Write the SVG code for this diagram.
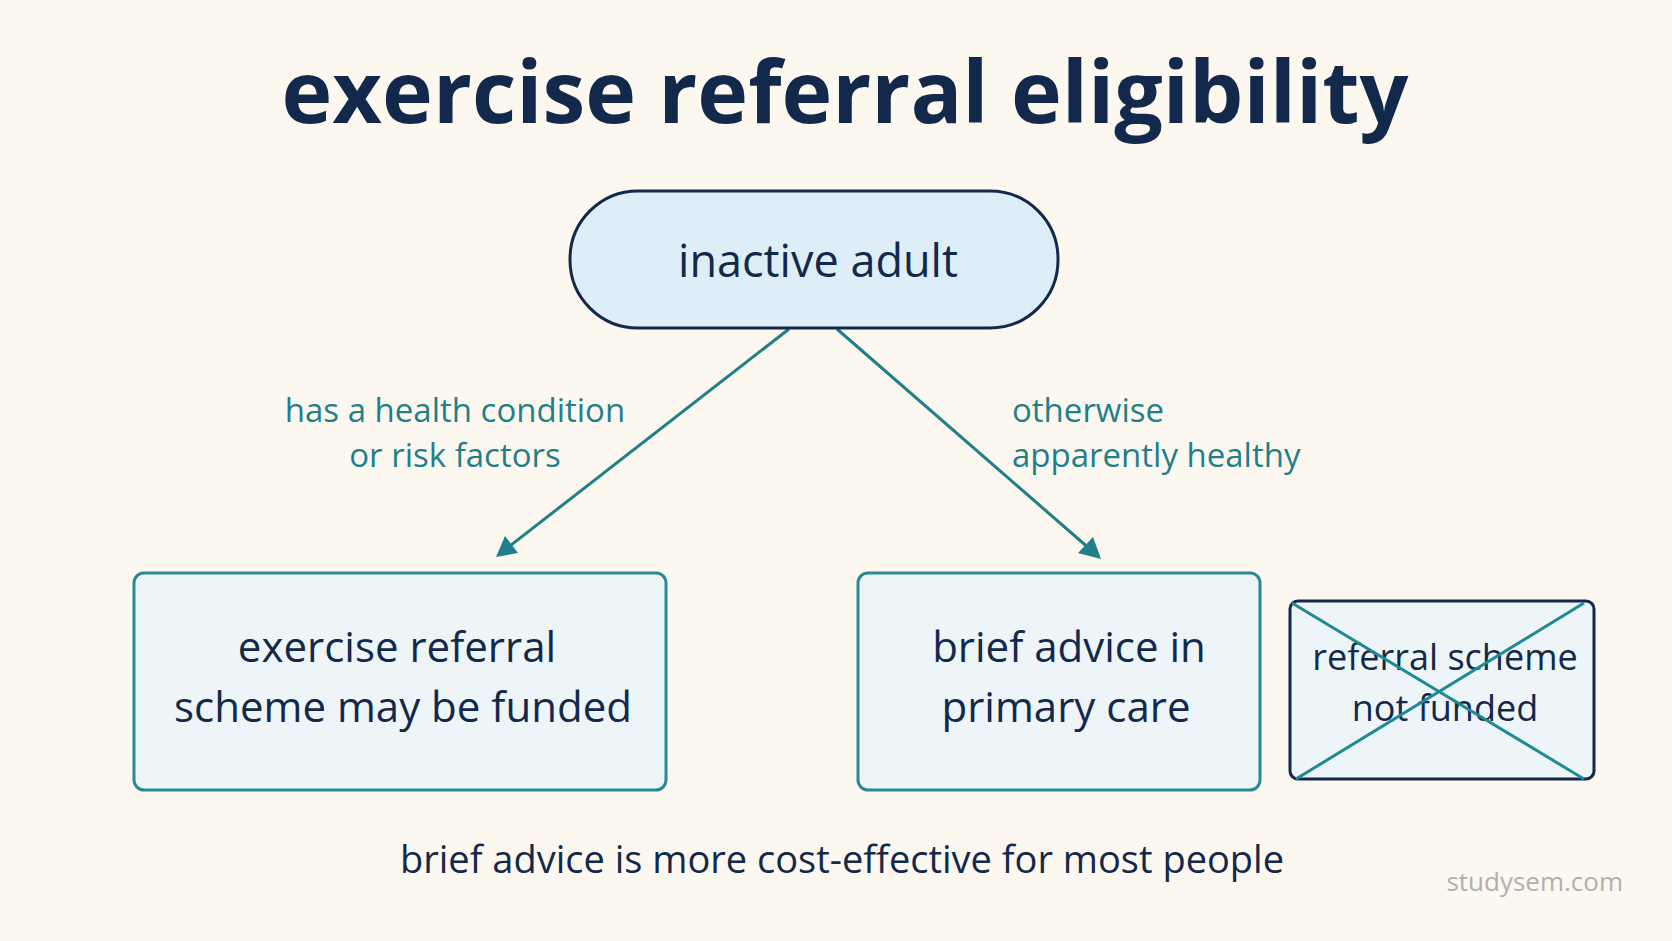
<svg xmlns="http://www.w3.org/2000/svg" width="1672" height="941" viewBox="0 0 1672 941">
<defs>
<marker id="ah" viewBox="0 0 10 10" refX="9" refY="5" markerWidth="7" markerHeight="7" orient="auto" markerUnits="userSpaceOnUse" style="overflow:visible">
<path d="M0,0 L10,5 L0,10 z" fill="#1f7f8a" transform="scale(2.2) translate(-5,-5) translate(5,5)"/>
</marker>
<style>
text{font-family:"Open Sans","Noto Sans","Liberation Sans",sans-serif;}
.t{fill:#13294b;text-anchor:middle}
.lab{fill:#1f7f8a;font-size:33px}
.box{fill:#eef5f8;stroke:#2a8a93;stroke-width:3}
.conn{stroke:#1f7f8a;stroke-width:3;fill:none}
</style>
</defs>
<rect width="1672" height="941" fill="#fcf8f0"/>
<text x="845" y="123" class="t" font-size="86" font-weight="bold">exercise referral eligibility</text>
<g id="connectors">
<line class="conn" x1="789" y1="329" x2="506" y2="549"/>
<path d="M496,557 L505,536 L518,553 z" fill="#1f7f8a"/>
<line class="conn" x1="837" y1="329" x2="1091" y2="550"/>
<path d="M1101,559 L1078,553 L1093,537 z" fill="#1f7f8a"/>
<text class="lab" x="455" y="422" text-anchor="middle">has a health condition</text>
<text class="lab" x="455" y="467" text-anchor="middle">or risk factors</text>
<text class="lab" x="1012" y="422">otherwise</text>
<text class="lab" x="1012" y="467">apparently healthy</text>
</g>
<g id="inactive">
<rect x="570" y="191" width="488" height="137" rx="68" fill="#ddeef8" stroke="#13294b" stroke-width="3"/>
<text x="818" y="277" class="t" font-size="45">inactive adult</text>
</g>
<g id="referral">
<rect class="box" x="134" y="573" width="532" height="217" rx="10"/>
<text x="397" y="662" class="t" font-size="42">exercise referral</text>
<text x="403" y="722" class="t" font-size="42">scheme may be funded</text>
</g>
<g id="brief">
<rect class="box" x="858" y="573" width="402" height="217" rx="10"/>
<text x="1069" y="662" class="t" font-size="42">brief advice in</text>
<text x="1066" y="722" class="t" font-size="42">primary care</text>
</g>
<g id="notfunded">
<rect x="1290" y="601" width="304" height="178" rx="8" fill="#eef5f8" stroke="#13294b" stroke-width="3"/>
<text x="1445" y="670" class="t" font-size="36">referral scheme</text>
<text x="1445" y="721" class="t" font-size="36">not funded</text>
<line x1="1292" y1="603" x2="1584" y2="779" stroke="#1f8a93" stroke-width="3"/>
<line x1="1584" y1="603" x2="1296" y2="779" stroke="#1f8a93" stroke-width="3"/>
</g>
<text x="842" y="873" class="t" font-size="38">brief advice is more cost-effective for most people</text>
<text x="1623" y="891" font-size="26" fill="#b0b0b0" text-anchor="end">studysem.com</text>
</svg>
